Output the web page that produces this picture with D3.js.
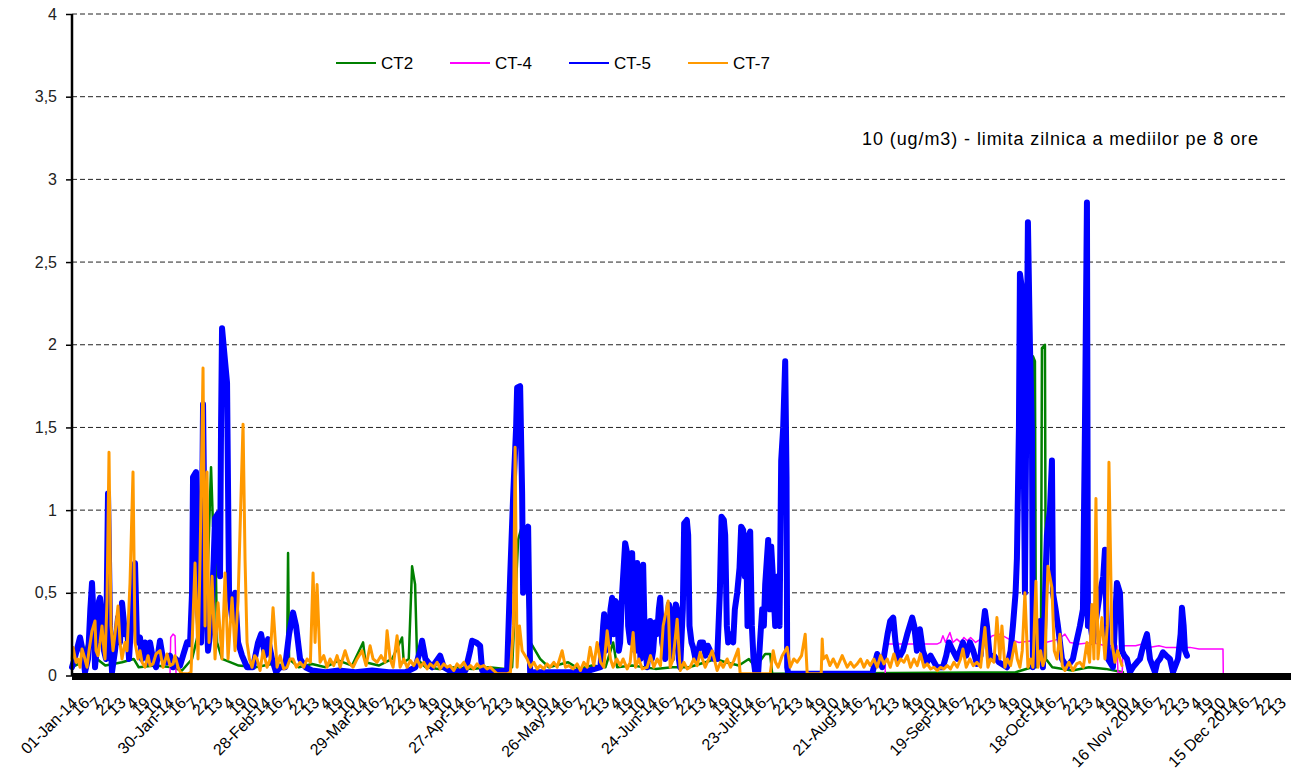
<!DOCTYPE html>
<html>
<head>
<meta charset="utf-8">
<script src="https://cdn.jsdelivr.net/npm/d3@7.9.0/dist/d3.min.js"></script>
<style>
  body { margin: 0; background: #fff; }
  svg { display: block; font-family: "Liberation Sans", Arial, sans-serif; }
</style>
</head>
<body>
<svg id="chart" width="1291" height="774"></svg>
<script>
// category labels on the x axis (one every 87 hourly rows)
const dateLabels = ["01-Jan-14", "30-Jan-14", "28-Feb-14", "29-Mar-14", "27-Apr-14", "26-May-14",
  "24-Jun-14", "23-Jul-14", "21-Aug-14", "19-Sep-14", "18-Oct-14", "16 Nov 2014", "15 Dec 2014"]
const hourLabels = ["16", "7", "22", "13", "4", "19", "10"]
const labelStep = 87
const totalHours = 8760
const yTicks = [0, 0.5, 1, 1.5, 2, 2.5, 3, 3.5, 4]

const seriesNames = ["CT2", "CT-4", "CT-5", "CT-7"]
const annotation = "10 (ug/m3) - limita zilnica a mediilor pe 8 ore"

// [day of year, value]
const ct2 = [[0,0.05],[3,0.08],[6.6,0.33],[7.5,0.1],[10,0.06],[15,0.08],[18.5,0.1],[20,0.05],[25,0.06],[30,0.05],[33,0.03],[36,0.1],[38.4,0.3],[40.5,0.5],[41.7,1.26],[42.3,0.9],[42.9,0.95],[43.5,0.2],[45,0.1],[50,0.06],[55,0.05],[60,0.07],[64.5,0.06],[64.8,0.74],[65.1,0.1],[68,0.05],[72,0.07],[76,0.05],[80,0.09],[84,0.06],[87.3,0.2],[88,0.08],[92,0.06],[96,0.1],[99.0,0.23],[99.5,0.08],[101,0.1],[102.0,0.66],[102.9,0.55],[103.5,0.1],[106,0.05],[110,0.04],[115,0.05],[120,0.04],[125,0.05],[130,0.04],[132,0.05],[133.8,0.82],[135.3,0.93],[136.5,0.5],[137.5,0.2],[140.4,0.1],[143,0.05],[148.8,0.08],[152,0.04],[156,0.06],[160,0.05],[162.3,0.2],[163.5,0.05],[168,0.06],[175,0.04],[180,0.05],[185,0.05],[190,0.08],[193,0.1],[196,0.08],[200,0.06],[203,0.1],[205,0.05],[207.9,0.13],[209.4,0.13],[210,0.01],[283,0.02],[287.9,0.05],[288.2,1.93],[288.8,1.9],[289.1,0.05],[290.6,0.1],[290.9,1.98],[291.8,2.0],[292.1,0.1],[294,0.05],[300,0.03],[305,0.05],[310,0.04],[315.2,0.02]]

const ct4 = [[0,0.01],[29.4,0.01],[29.6,0.23],[30.3,0.25],[30.9,0.24],[31.2,0.01],[243.9,0.01],[244.0,0.19],[259.4,0.19],[260.5,0.2],[261.2,0.24],[262,0.2],[263.3,0.26],[264.2,0.2],[265.4,0.22],[266.5,0.2],[267.5,0.23],[268.5,0.21],[269.5,0.23],[271,0.2],[272.5,0.22],[274,0.2],[276,0.24],[278.3,0.25],[281,0.22],[284,0.2],[288,0.21],[292,0.2],[296,0.22],[297.8,0.25],[299.3,0.2],[302,0.19],[306,0.2],[310,0.18],[313.4,0.18],[313.7,0.02],[315,0.02],[315.2,0.18],[319,0.18],[321,0.19],[323,0.17],[326,0.18],[328,0.17],[331,0.17],[335.3,0.17],[338,0.16],[345.2,0.16],[345.3,0]]

const ct5 = [[0,0.05],[1.0,0.12],[2.4,0.23],[3.2,0.15],[3.9,0.02],[4.8,0.1],[5.5,0.4],[6.0,0.56],[6.6,0.3],[6.9,0.05],[7.6,0.2],[8.1,0.45],[8.4,0.47],[9.0,0.35],[9.6,0.15],[10.2,0.1],[10.5,0.6],[10.8,1.1],[11.4,0.3],[12.0,0.02],[12.9,0.15],[13.8,0.35],[14.4,0.2],[15.0,0.44],[15.9,0.25],[16.5,0.3],[17.1,0.1],[18.0,0.4],[18.6,0.66],[18.9,0.68],[19.5,0.2],[20.4,0.23],[21.0,0.1],[21.9,0.2],[22.8,0.08],[23.4,0.2],[24.3,0.1],[25.2,0.05],[26.4,0.21],[27.3,0.1],[28.5,0.08],[29.4,0.12],[30.3,0.05],[31.2,0.1],[32.4,0.06],[33.3,0.12],[34.5,0.2],[35.4,0.19],[36.0,0.5],[36.3,1.2],[37.2,1.23],[37.8,0.4],[38.1,0.3],[38.7,0.2],[39.0,0.9],[39.3,1.64],[39.9,0.6],[40.8,0.15],[41.7,0.3],[42.5,0.7],[42.9,0.95],[43.8,0.98],[44.4,0.6],[44.7,1.5],[45.0,2.1],[45.9,1.9],[46.5,1.77],[47.1,0.5],[48.0,0.35],[48.9,0.5],[49.8,0.2],[51.0,0.12],[52.5,0.05],[54.3,0.05],[55.8,0.2],[56.7,0.25],[57.9,0.12],[58.8,0.22],[60.0,0.1],[61.2,0.02],[62.4,0.05],[63.9,0.05],[65.1,0.25],[66.3,0.38],[67.2,0.3],[68.4,0.1],[70,0.05],[72,0.03],[76,0.02],[80,0.03],[85,0.02],[90,0.03],[95,0.02],[100,0.02],[103,0.05],[104.4,0.15],[105,0.21],[106,0.1],[108,0.05],[110.4,0.12],[111.5,0.05],[114,0.02],[118,0.03],[119.4,0.15],[120,0.21],[121.2,0.2],[122.4,0.18],[123,0.03],[126,0.02],[130.5,0.03],[131.4,0.59],[132.3,1.08],[133.2,1.5],[133.5,1.74],[134.4,1.75],[135.0,1.1],[135.3,0.5],[135.9,0.6],[136.4,0.88],[136.8,0.9],[137.4,0.02],[140,0.02],[145,0.02],[150,0.02],[155,0.03],[158.5,0.05],[159.3,0.3],[159.6,0.37],[160.0,0.15],[160.5,0.35],[161.0,0.2],[161.5,0.4],[162.0,0.47],[162.5,0.25],[163.0,0.45],[163.5,0.43],[164.0,0.15],[164.4,0.2],[165.0,0.5],[165.9,0.8],[166.4,0.75],[166.8,0.3],[167.4,0.2],[167.7,0.6],[168.0,0.74],[168.5,0.3],[168.9,0.15],[169.2,0.5],[169.5,0.68],[170.0,0.3],[170.5,0.1],[171.0,0.3],[171.3,0.67],[171.8,0.2],[172.5,0.05],[173.0,0.2],[173.4,0.33],[173.9,0.1],[174.3,0.15],[174.9,0.32],[175.5,0.25],[176.0,0.4],[176.4,0.47],[177.0,0.2],[177.9,0.1],[178.5,0.3],[179.0,0.43],[179.4,0.4],[179.9,0.1],[180.5,0.25],[181.1,0.43],[181.5,0.4],[182.0,0.1],[182.4,0.05],[183.2,0.4],[183.6,0.92],[184.4,0.94],[184.8,0.85],[185.2,0.3],[185.8,0.2],[186.3,0.17],[187.0,0.1],[187.5,0.12],[188.4,0.2],[189.3,0.2],[190.0,0.12],[190.7,0.18],[191.4,0.15],[192.5,0.1],[193.5,0.1],[194.3,0.5],[194.8,0.96],[195.5,0.94],[195.9,0.85],[196.4,0.3],[196.8,0.2],[197.5,0.25],[198.3,0.2],[198.8,0.4],[199.5,0.5],[200.2,0.65],[200.7,0.9],[201.3,0.88],[201.8,0.6],[202.2,0.84],[202.6,0.3],[203.0,0.85],[203.4,0.87],[203.9,0.3],[204.4,0.1],[204.9,0.02],[205.8,0.02],[206.5,0.25],[207.0,0.4],[207.5,0.3],[207.9,0.55],[208.4,0.7],[208.8,0.82],[209.3,0.4],[209.7,0.78],[210.2,0.6],[210.9,0.3],[211.3,0.5],[211.8,0.6],[212.2,0.3],[212.7,1.3],[213.3,1.5],[213.9,1.9],[214.3,1.2],[214.5,0.05],[214.8,0.01],[240,0.01],[241.5,0.13],[243.0,0.05],[244.6,0.25],[245.4,0.33],[246.3,0.35],[247.0,0.2],[247.8,0.1],[249.2,0.15],[250.5,0.25],[252.0,0.35],[252.6,0.3],[253.4,0.15],[254.3,0.28],[255.2,0.15],[256.4,0.08],[257.5,0.12],[259.4,0.05],[261.2,0.05],[262.2,0.12],[263.0,0.2],[264.2,0.15],[265.5,0.1],[267.2,0.2],[268.2,0.12],[269.3,0.2],[270.3,0.15],[271.4,0.07],[272.5,0.12],[273.3,0.3],[273.8,0.39],[274.4,0.3],[275.3,0.1],[276.5,0.12],[278,0.08],[280.4,0.05],[281.5,0.15],[282.2,0.3],[283.0,0.5],[283.4,0.71],[284.0,1.5],[284.3,2.43],[285.2,2.3],[285.5,1.2],[285.8,0.5],[286.3,1.8],[286.7,2.74],[287.3,2.0],[287.9,1.48],[288.2,0.05],[289.5,0.2],[290.3,0.33],[291.2,0.05],[292.0,0.6],[292.4,0.85],[293.3,1.0],[293.9,1.3],[294.2,0.5],[295.0,0.4],[295.7,0.3],[296.3,0.2],[296.9,0.1],[298.4,0.05],[300.2,0.1],[301.2,0.2],[302.3,0.3],[303.2,0.4],[303.8,1.5],[304.4,2.86],[304.7,0.3],[305.5,0.3],[306.2,0.2],[307.2,0.35],[308.3,0.5],[309.3,0.6],[309.8,0.76],[310.2,0.4],[310.7,0.1],[312.2,0.05],[313.0,0.4],[313.4,0.56],[314.3,0.5],[314.9,0.15],[315.6,0.12],[316.4,0.1],[317.3,0.02],[318.2,0.05],[319.4,0.08],[320.3,0.1],[320.9,0.15],[321.6,0.2],[322.4,0.25],[323.3,0.1],[324.8,0.02],[325.5,0.08],[326.3,0.1],[327.2,0.14],[328.2,0.12],[329.3,0.1],[330.2,0.02],[331.7,0.1],[332.5,0.25],[332.9,0.41],[333.4,0.3],[333.8,0.15],[334.4,0.12]]

const ct7 = [[0,0.1],[0.3,0.17],[1.2,0.08],[1.8,0.1],[2.4,0.05],[3.0,0.16],[3.6,0.12],[4.5,0.05],[5.1,0.15],[6.0,0.27],[6.9,0.33],[7.2,0.15],[7.8,0.12],[8.4,0.2],[9.0,0.3],[9.6,0.15],[9.9,0.1],[10.5,0.45],[11.1,1.35],[11.7,0.3],[12.3,0.15],[12.9,0.25],[13.8,0.42],[14.4,0.2],[15.0,0.1],[15.9,0.2],[16.5,0.15],[17.4,0.56],[18.3,1.23],[18.9,0.2],[19.8,0.1],[20.4,0.15],[21.0,0.08],[21.9,0.05],[22.8,0.12],[23.4,0.06],[24.3,0.07],[25.2,0.13],[26.4,0.15],[27.3,0.05],[28.5,0.13],[29.4,0.06],[30.3,0.07],[30.9,0.12],[31.8,0.05],[32.5,0.02],[33.3,0.01],[34.8,0.01],[35.7,0.02],[36.9,0.68],[37.8,0.1],[38.4,0.7],[39.3,1.86],[39.9,0.3],[40.5,1.23],[41.1,0.2],[42.0,0.6],[42.9,0.1],[43.8,0.44],[45.0,0.1],[45.9,0.62],[46.8,0.1],[48.0,0.47],[48.9,0.15],[49.8,0.45],[51.3,1.52],[51.9,0.7],[52.5,0.2],[53.2,0.1],[54.0,0.05],[54.8,0.12],[55.5,0.1],[56.4,0.03],[57.3,0.15],[58.5,0.05],[59.4,0.1],[60.3,0.41],[61.5,0.05],[62.4,0.12],[63.5,0.04],[64.5,0.05],[65.4,0.1],[66.3,0.1],[67.3,0.05],[68.4,0.08],[69.5,0.05],[70.5,0.1],[71.5,0.08],[72.3,0.62],[72.9,0.2],[73.5,0.55],[74.4,0.08],[75.5,0.12],[76.5,0.05],[77.4,0.1],[78.5,0.06],[79.5,0.12],[80.4,0.05],[81.9,0.15],[83.0,0.08],[84.3,0.05],[85.5,0.1],[87.0,0.15],[88.2,0.06],[89.4,0.18],[90.3,0.1],[91.5,0.08],[92.7,0.12],[93.9,0.08],[94.5,0.27],[95.4,0.1],[96.3,0.05],[97.5,0.24],[98.4,0.05],[99.5,0.1],[100.5,0.05],[101.5,0.09],[102.5,0.06],[103.5,0.1],[104.5,0.05],[105.5,0.08],[106.5,0.04],[107.4,0.07],[108.5,0.05],[109.5,0.08],[110.4,0.04],[111.5,0.07],[112.5,0.05],[113.4,0.06],[114.5,0.03],[115.5,0.07],[116.4,0.05],[117.5,0.08],[118.5,0.04],[119.5,0.06],[120.5,0.04],[121.5,0.07],[122.4,0.05],[123.5,0.06],[124.5,0.04],[125.4,0.05],[126.5,0.03],[127.5,0.01],[130.5,0.01],[131.5,0.02],[132.4,0.3],[132.9,1.38],[133.5,0.05],[134.2,0.3],[135.0,0.15],[136.5,0.1],[137.5,0.05],[138.5,0.08],[139.5,0.04],[140.4,0.06],[141.5,0.04],[142.5,0.07],[143.4,0.05],[144.5,0.08],[145.5,0.05],[147.0,0.15],[148.0,0.05],[149.0,0.06],[150.3,0.04],[151.5,0.07],[152.5,0.03],[153.5,0.08],[154.5,0.05],[155.4,0.17],[156.5,0.06],[157.5,0.2],[158.5,0.08],[159.5,0.05],[160.5,0.27],[161.5,0.1],[162.3,0.05],[163.4,0.1],[164.4,0.06],[165.3,0.1],[166.5,0.04],[167.4,0.08],[168.3,0.26],[169.0,0.05],[170.0,0.1],[171.0,0.04],[172.5,0.05],[173.5,0.12],[174.5,0.05],[175.5,0.1],[176.5,0.06],[177.3,0.3],[178.8,0.45],[179.4,0.05],[180.3,0.1],[181.5,0.34],[182.4,0.03],[183.5,0.08],[184.5,0.04],[185.4,0.05],[186.5,0.1],[187.5,0.06],[188.4,0.14],[189.9,0.05],[191.0,0.1],[192.0,0.15],[193.5,0.03],[194.5,0.08],[195.3,0.05],[196.5,0.1],[197.5,0.05],[198.5,0.09],[199.8,0.16],[200.4,0.01],[209.4,0.01],[210.3,0.15],[211.0,0.08],[211.8,0.05],[213.0,0.12],[214.5,0.17],[215.4,0.05],[216.5,0.1],[217.5,0.08],[218.8,0.12],[219.9,0.25],[220.5,0.01],[224.7,0.01],[225.0,0.22],[225.3,0.1],[226.3,0.12],[227.3,0.06],[228.3,0.1],[229.5,0.05],[231.0,0.12],[232.5,0.05],[233.5,0.08],[234.5,0.05],[235.5,0.07],[236.5,0.1],[237.5,0.05],[238.5,0.09],[239.4,0.06],[240.5,0.1],[241.5,0.05],[242.5,0.12],[243.5,0.07],[244.5,0.1],[245.4,0.05],[246.5,0.13],[247.5,0.06],[248.5,0.1],[249.5,0.08],[250.5,0.12],[251.5,0.05],[252.5,0.1],[253.5,0.06],[254.5,0.13],[255.5,0.05],[256.5,0.07],[257.5,0.04],[258.5,0.05],[259.5,0.03],[260.5,0.05],[261.5,0.04],[262.5,0.06],[263.5,0.04],[264.5,0.08],[265.5,0.05],[266.5,0.1],[267.2,0.16],[268.2,0.05],[269.3,0.1],[270.3,0.06],[271.4,0.08],[272.5,0.05],[273.8,0.29],[274.7,0.05],[275.5,0.1],[276.5,0.08],[277.4,0.35],[278.3,0.1],[278.9,0.3],[279.8,0.05],[280.5,0.1],[281.5,0.06],[282.8,0.2],[283.5,0.1],[284.3,0.05],[285.0,0.15],[285.8,0.5],[286.7,0.05],[287.5,0.1],[288.2,0.05],[289.1,0.57],[289.7,0.05],[290.5,0.15],[291.2,0.06],[291.8,0.1],[292.7,0.66],[293.9,0.53],[294.6,0.15],[295.4,0.1],[296.3,0.25],[297.0,0.06],[297.8,0.03],[299.0,0.08],[300.2,0.03],[301.3,0.07],[302.3,0.08],[303.3,0.05],[304.4,0.2],[305.2,0.08],[305.9,0.43],[306.5,0.1],[307.1,1.07],[307.7,0.1],[308.9,0.35],[309.8,0.1],[310.5,0.3],[311.0,1.29],[311.9,0.2],[312.8,0.08],[313.6,0.15],[314.3,0.1],[314.9,0.06]]

const seriesData = [ct2, ct4, ct5, ct7]
const colors = ["#008000", "#ff00ff", "#0000ff", "#ff9900"]
const widths = [2.5, 1.5, 6, 3]

const svg = d3.select('#chart')

let x = d3.scaleLinear().domain([0, totalHours]).range([72, 1289])
let y = d3.scaleLinear().domain([0, 4]).range([675.5, 14])

// dashed gridlines
svg.append('g')
    .selectAll('line')
    .data(yTicks.filter(d => d > 0))
    .join('line')
    .attr('x1', 72).attr('x2', 1286)
    .attr('y1', d => y(d)).attr('y2', d => y(d))
    .attr('stroke', '#222')
    .attr('stroke-width', 1)
    .attr('stroke-dasharray', '5,3')

// series
let line = d3.line()
    .x(d => x(d[0] * 24))
    .y(d => y(d[1]))

seriesData.forEach((data, idx) => {
    svg.append('path')
        .attr('d', line(data))
        .attr('fill', 'none')
        .attr('stroke', colors[idx])
        .attr('stroke-width', widths[idx])
        .attr('stroke-linejoin', 'round')
        .attr('stroke-linecap', 'round')
})

// y axis
let yAxis = svg.append('g')
    .attr('transform', 'translate(72,0)')
    .call(d3.axisLeft(y).tickValues(yTicks).tickSize(6).tickPadding(9)
        .tickFormat(d => String(d).replace('.', ',')))
yAxis.select('.domain').remove()
yAxis.selectAll('line').attr('stroke', '#000').attr('stroke-width', 1.5)
yAxis.selectAll('text')
    .attr('font-size', 16)
    .attr('fill', '#222')
    .attr('font-family', '"Liberation Sans", Arial, sans-serif')

svg.append('line')
    .attr('x1', 72).attr('x2', 72)
    .attr('y1', y(4)).attr('y2', 676)
    .attr('stroke', '#000').attr('stroke-width', 2.5)

// x axis: thick base line + rotated category labels
svg.append('line')
    .attr('x1', 72).attr('x2', 1291)
    .attr('y1', 676.5).attr('y2', 676.5)
    .attr('stroke', '#000').attr('stroke-width', 7)

let tickHours = d3.range(0, totalHours - 50, labelStep)
let xAxis = svg.append('g')
    .attr('transform', 'translate(0,676)')
    .call(d3.axisBottom(x).tickValues(tickHours).tickSize(0)
        .tickFormat((d, i) => i % 8 === 0 ? dateLabels[i / 8] : hourLabels[i % 8 - 1]))
xAxis.select('.domain').remove()
xAxis.selectAll('text')
    .attr('y', 0).attr('dy', 0)
    .attr('text-anchor', 'end')
    .attr('transform', 'translate(6,28) rotate(-45)')
    .attr('font-size', 16)
    .attr('fill', '#000')
    .attr('font-family', '"Liberation Sans", Arial, sans-serif')

// legend
let legend = svg.append('g').attr('transform', 'translate(336,63)')
let legendX = [0, 114, 233, 352]
seriesNames.forEach((name, idx) => {
    let g = legend.append('g').attr('transform', `translate(${legendX[idx]},0)`)
    g.append('line')
        .attr('x1', 0).attr('x2', 40)
        .attr('stroke', colors[idx]).attr('stroke-width', 2)
    g.append('text')
        .attr('x', 45).attr('dy', '0.35em')
        .attr('font-size', 17)
        .text(name)
})

// annotation
svg.append('text')
    .attr('x', 862).attr('y', 145)
    .attr('font-size', 18)
    .attr('textLength', 396)
    .attr('lengthAdjust', 'spacing')
    .text(annotation)
</script>
</body>
</html>
